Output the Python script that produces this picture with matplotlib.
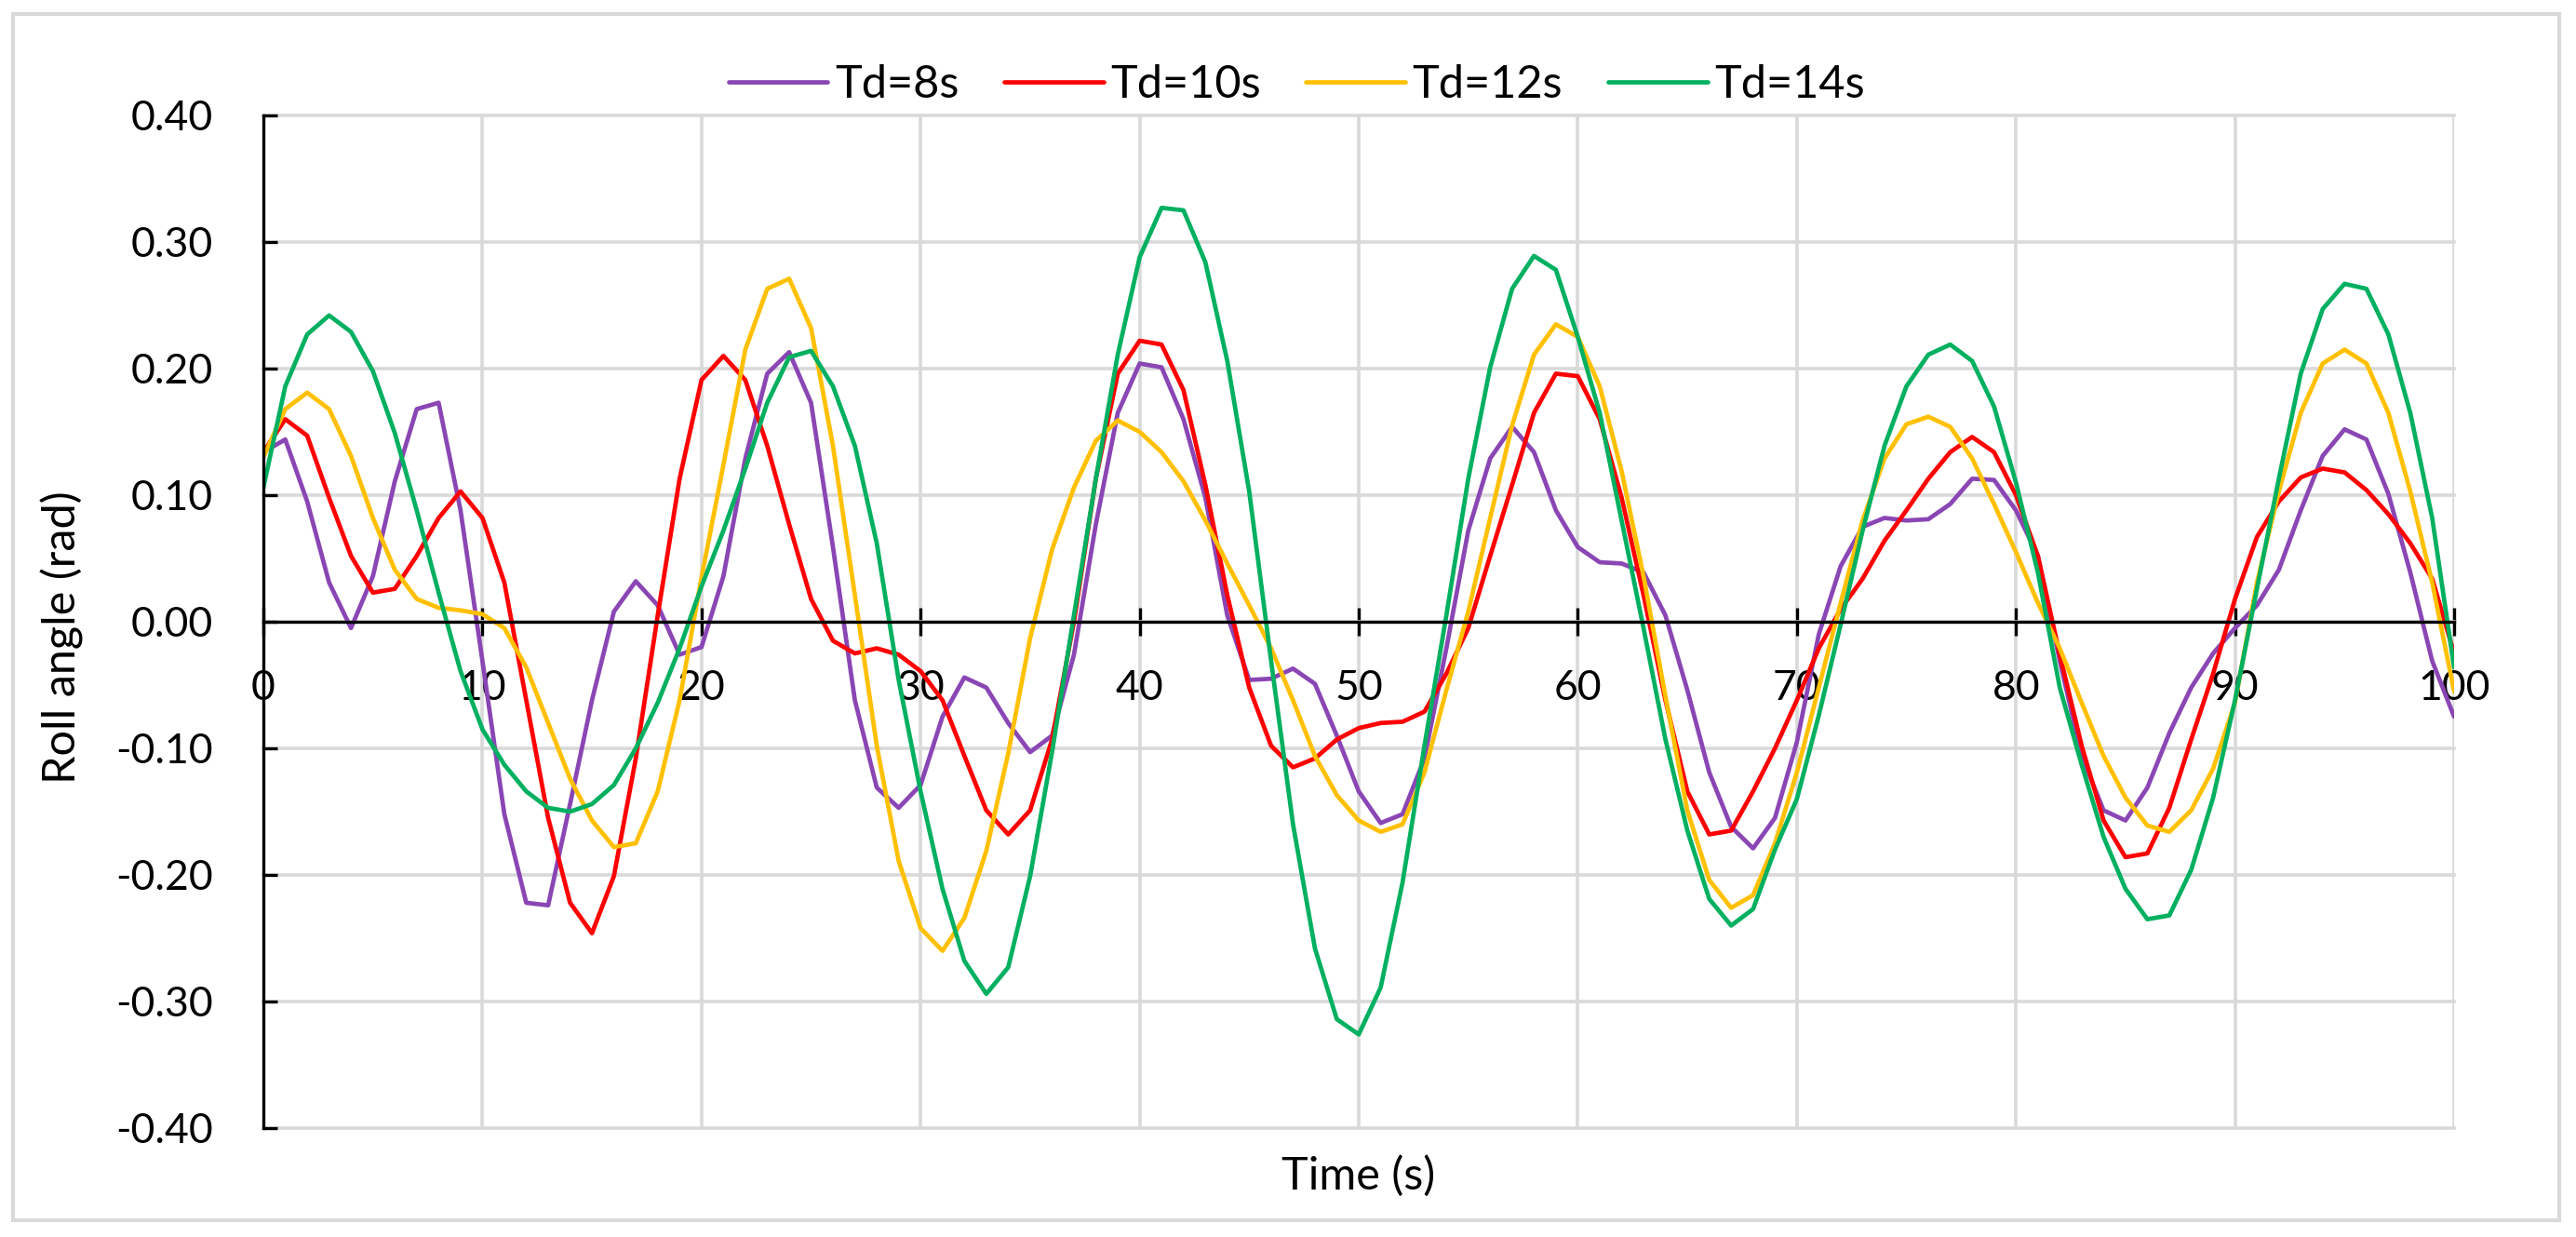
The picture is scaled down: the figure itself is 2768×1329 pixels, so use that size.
import matplotlib
matplotlib.use("Agg")
import matplotlib.pyplot as plt
from matplotlib.patches import Rectangle

plt.rcParams['font.family'] = ['Lato', 'DejaVu Sans']
plt.rcParams['axes.unicode_minus'] = False

# time axis (s), one reading per second
time = list(range(0, 101))

td8 = [0.134, 0.144, 0.095, 0.031, -0.005, 0.036, 0.111, 0.168, 0.173, 0.088,
       -0.031, -0.152, -0.222, -0.224, -0.144, -0.062, 0.008, 0.032, 0.013, -0.026,
       -0.020, 0.036, 0.129, 0.196, 0.213, 0.173, 0.059, -0.062, -0.131, -0.147,
       -0.129, -0.075, -0.044, -0.052, -0.080, -0.103, -0.090, -0.026, 0.077, 0.165,
       0.204, 0.201, 0.160, 0.098, 0.005, -0.046, -0.045, -0.037, -0.049, -0.090,
       -0.134, -0.159, -0.152, -0.108, -0.021, 0.072, 0.129, 0.154, 0.134, 0.088,
       0.059, 0.047, 0.046, 0.039, 0.005, -0.054, -0.119, -0.162, -0.179, -0.155,
       -0.095, -0.010, 0.044, 0.075, 0.082, 0.080, 0.081, 0.093, 0.113, 0.112,
       0.088, 0.052, -0.031, -0.106, -0.149, -0.157, -0.131, -0.088, -0.052, -0.025,
       -0.005, 0.013, 0.041, 0.088, 0.131, 0.152, 0.144, 0.101, 0.039, -0.031,
       -0.075]

td10 = [0.134, 0.160, 0.147, 0.098, 0.052, 0.023, 0.026, 0.052, 0.082, 0.103,
        0.082, 0.031, -0.062, -0.155, -0.222, -0.246, -0.201, -0.108, 0.005, 0.113,
        0.191, 0.210, 0.191, 0.139, 0.077, 0.018, -0.015, -0.025, -0.021, -0.026,
        -0.039, -0.062, -0.106, -0.149, -0.168, -0.149, -0.093, 0.000, 0.113, 0.196,
        0.222, 0.219, 0.183, 0.108, 0.021, -0.052, -0.098, -0.115, -0.108, -0.093,
        -0.084, -0.080, -0.079, -0.071, -0.041, -0.005, 0.052, 0.108, 0.165, 0.196,
        0.194, 0.160, 0.098, 0.021, -0.062, -0.134, -0.168, -0.165, -0.134, -0.100,
        -0.062, -0.021, 0.010, 0.034, 0.064, 0.088, 0.113, 0.134, 0.146, 0.134,
        0.100, 0.052, -0.026, -0.098, -0.157, -0.186, -0.183, -0.147, -0.093, -0.041,
        0.018, 0.067, 0.095, 0.114, 0.121, 0.118, 0.104, 0.085, 0.062, 0.034,
        -0.025]

td12 = [0.130, 0.168, 0.181, 0.168, 0.131, 0.082, 0.041, 0.018, 0.011, 0.009,
        0.006, -0.005, -0.036, -0.080, -0.124, -0.157, -0.178, -0.175, -0.134, -0.062,
        0.035, 0.124, 0.215, 0.263, 0.271, 0.232, 0.139, 0.021, -0.098, -0.189,
        -0.242, -0.260, -0.234, -0.181, -0.104, -0.013, 0.057, 0.106, 0.143, 0.159,
        0.150, 0.134, 0.111, 0.080, 0.046, 0.013, -0.021, -0.062, -0.106, -0.137,
        -0.157, -0.166, -0.160, -0.119, -0.054, 0.008, 0.082, 0.155, 0.211, 0.235,
        0.225, 0.186, 0.119, 0.036, -0.059, -0.149, -0.204, -0.226, -0.216, -0.175,
        -0.119, -0.052, 0.015, 0.080, 0.129, 0.156, 0.162, 0.154, 0.129, 0.093,
        0.055, 0.015, -0.021, -0.064, -0.106, -0.139, -0.161, -0.166, -0.149, -0.116,
        -0.064, 0.031, 0.103, 0.165, 0.204, 0.215, 0.204, 0.165, 0.103, 0.031,
        -0.055]

td14 = [0.106, 0.186, 0.227, 0.242, 0.229, 0.198, 0.149, 0.088, 0.023, -0.039,
        -0.085, -0.113, -0.134, -0.147, -0.150, -0.144, -0.129, -0.100, -0.064, -0.021,
        0.028, 0.072, 0.121, 0.173, 0.209, 0.214, 0.186, 0.139, 0.062, -0.046,
        -0.134, -0.211, -0.268, -0.294, -0.273, -0.201, -0.103, 0.005, 0.113, 0.211,
        0.288, 0.327, 0.325, 0.284, 0.206, 0.103, -0.031, -0.160, -0.258, -0.314,
        -0.326, -0.289, -0.206, -0.098, 0.005, 0.113, 0.201, 0.263, 0.289, 0.278,
        0.225, 0.165, 0.080, -0.005, -0.093, -0.165, -0.219, -0.240, -0.227, -0.180,
        -0.140, -0.074, -0.002, 0.072, 0.139, 0.186, 0.211, 0.219, 0.206, 0.170,
        0.110, 0.039, -0.052, -0.113, -0.170, -0.211, -0.235, -0.232, -0.196, -0.139,
        -0.062, 0.026, 0.113, 0.196, 0.247, 0.267, 0.263, 0.227, 0.165, 0.082,
        -0.036]

series_names = ['Td=8s', 'Td=10s', 'Td=12s', 'Td=14s']
xticks = [0, 10, 20, 30, 40, 50, 60, 70, 80, 90, 100]
yticks = [-0.4, -0.3, -0.2, -0.1, 0.0, 0.1, 0.2, 0.3, 0.4]
ytick_labels = ['-0.40', '-0.30', '-0.20', '-0.10', '0.00', '0.10', '0.20', '0.30', '0.40']

colors = ['#8A46B4', '#FF0000', '#FFC000', '#00B060']
grid_c = '#d9d9d9'

fig = plt.figure(figsize=(27.68, 13.29), dpi=100)
fig.patch.set_facecolor('white')
ax = fig.add_axes([0.10224, 0.08804, 0.85044, 0.81866])

for ys, name, c in zip([td8, td10, td12, td14], series_names, colors):
    ax.plot(time, ys, color=c, lw=3.4, label=name,
            solid_joinstyle='round', solid_capstyle='round')

ax.set_xlim(0, 100)
ax.set_ylim(-0.4, 0.4)
ax.set_xticks(xticks)
ax.set_yticks(yticks)
ax.set_yticklabels(ytick_labels)

ax.set_axisbelow(True)
ax.grid(True, color=grid_c, lw=2.6)
for gl in ax.get_xgridlines() + ax.get_ygridlines():
    gl.set_clip_on(False)

ax.spines['top'].set_visible(False)
ax.spines['right'].set_visible(False)
ax.spines['left'].set_color('black')
ax.spines['left'].set_linewidth(2.4)
ax.spines['bottom'].set_position(('data', 0))
ax.spines['bottom'].set_color('black')
ax.spines['bottom'].set_linewidth(2.4)

ax.tick_params(axis='x', direction='inout', length=21.6, width=2.4, pad=26,
               labelsize=32, colors='black')
ax.tick_params(axis='y', direction='in', length=10.8, width=2.4, pad=39,
               labelsize=32, colors='black')

fig.text(1460 / 2768, 1 - 1263 / 1329, 'Time (s)', ha='center', va='center', fontsize=35)
fig.text(67 / 2768, 1 - 685 / 1329, 'Roll angle (rad)', ha='center', va='center',
         rotation=90, fontsize=35)

fig.legend(loc='center', bbox_to_anchor=(1393 / 2768, 1 - 91 / 1329), ncol=4,
           frameon=False, fontsize=35, handlelength=2.2, handletextpad=0.15,
           columnspacing=1.0)

fig.add_artist(Rectangle((14 / 2768, 1 - 1311 / 1329), 2736 / 2768, 1296 / 1329,
                         transform=fig.transFigure, fill=False, ec=grid_c, lw=2.9))

fig.savefig('out.png', dpi=100)
